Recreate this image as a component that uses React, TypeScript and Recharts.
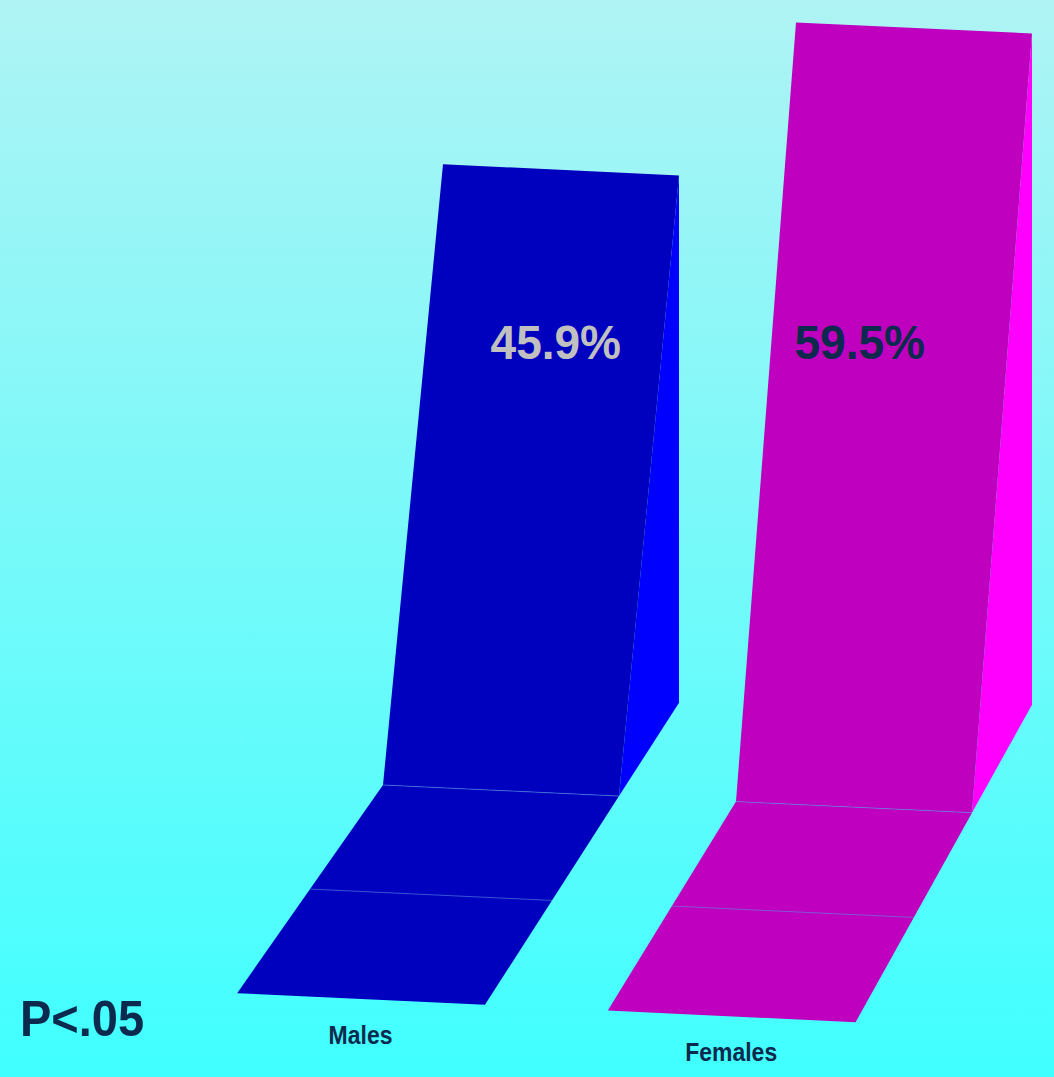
import { BarChart, Bar, XAxis, YAxis, LabelList } from 'recharts'

// Chart values
const categories = ['Males', 'Females']
const percents = [45.9, 59.5]
const valueLabels = ['45.9%', '59.5%']
const significance = 'P<.05'
const yDomain: [number, number] = [-7.6, 59.5]

// Styling per category
const frontColors = ['#0000bf', '#bf00bf']
const sideColors = ['#0000ff', '#ff00ff']
const labelColors = ['#c0c0c0', '#0b2a4e']
const INK = '#0b2a4e'
const FONT = '"Liberation Sans", Arial, Helvetica, sans-serif'

const data = categories.map((name, i) => ({ name, value: percents[i], label: valueLabels[i] }))

// Layout / fake-3D geometry
const CHART_W = 1054
const CHART_H = 1077
const MARGIN = { top: 3, right: 24, bottom: 0, left: 324 }
const AXIS_H = 292
const BASE = CHART_H - MARGIN.bottom - AXIS_H // front face bottom (unskewed)
const BAR_W = 236
const LEAN = 60 // top of front face leans right
const DEPTH = 215 // floor depth toward viewer
const SKEW = 0.047 // whole scene tilts down to the right
const X0 = 383
const LABEL_Y = 359

const floorShift = (x: number) => -165 + 0.05 * x
// value labels drift toward the left edge further right in the scene
const labelShift = (x: number) => 108 - 0.139 * x
const skY = (x: number, y: number) => y + SKEW * (x - X0)
const poly = (pts: number[][]) => pts.map(p => `${p[0]},${skY(p[0], p[1])}`).join(' ')

function StretchText({ x, y, size, sy, color, anchor, children }: any) {
    return (
        <text
            transform={`translate(${x} ${y}) scale(1 ${sy})`}
            textAnchor={anchor}
            fontFamily={FONT}
            fontWeight="bold"
            fontSize={size}
            fill={color}
        >
            {children}
        </text>
    )
}

function Slab(props: any) {
    const { x, y, width, index, payload } = props
    const i = typeof index === 'number' ? index : categories.indexOf(payload?.name)
    const bl = x
    const br = x + width
    const sl = floorShift(bl)
    const sr = floorShift(br)
    const top = y
    const drop = (LEAN * DEPTH) / -sr

    const floor = [[bl, BASE], [br, BASE], [br + sr, BASE + DEPTH], [bl + sl, BASE + DEPTH]]
    const side = [[br + LEAN, top], [br + LEAN, BASE - drop], [br, BASE]]
    const front = [[bl, BASE], [br, BASE], [br + LEAN, top], [bl + LEAN, top]]
    const midY = BASE + DEPTH / 2
    const ax = bl + sl / 2
    const bx = br + sr / 2

    return (
        <g>
            <polygon points={poly(floor)} fill={frontColors[i]} />
            <polygon points={poly(side)} fill={sideColors[i]} />
            <polygon points={poly(front)} fill={frontColors[i]} />
            <line x1={bl} y1={skY(bl, BASE)} x2={br} y2={skY(br, BASE)} stroke="#5a8fe0" strokeOpacity={0.6} strokeWidth={1} />
            <line x1={ax} y1={skY(ax, midY)} x2={bx} y2={skY(bx, midY)} stroke="#5a8fe0" strokeOpacity={0.6} strokeWidth={1} />
        </g>
    )
}

function CategoryTick(props: any) {
    const { x, payload } = props
    const bl = x - BAR_W / 2
    const br = x + BAR_W / 2
    const cx = (bl + floorShift(bl) + br + floorShift(br)) / 2
    const cy = skY(cx, BASE + DEPTH + 45)
    return (
        <StretchText x={cx} y={cy} size={23} sy={1.12} color={INK} anchor="middle">
            {payload.value}
        </StretchText>
    )
}

function ValueLabel(props: any) {
    const { x, width, value, index } = props
    return (
        <StretchText
            x={x + width / 2 + labelShift(x)}
            y={LABEL_Y}
            size={46}
            sy={1.06}
            color={labelColors[index]}
            anchor="middle"
        >
            {value}
        </StretchText>
    )
}

export default function App() {
    return (
        <div
            style={{
                position: 'absolute',
                left: 0,
                top: 0,
                width: CHART_W,
                height: CHART_H,
                background: 'linear-gradient(to bottom, #aff3f4 0%, #40ffff 100%)',
                overflow: 'hidden'
            }}
        >
            <BarChart width={CHART_W} height={CHART_H} data={data} margin={MARGIN}>
                <YAxis hide domain={yDomain} type="number" />
                <XAxis
                    dataKey="name"
                    height={AXIS_H}
                    axisLine={false}
                    tickLine={false}
                    interval={0}
                    tick={<CategoryTick />}
                />
                <Bar dataKey="value" barSize={BAR_W} shape={<Slab />} isAnimationActive={false}>
                    <LabelList dataKey="label" content={<ValueLabel />} />
                </Bar>
            </BarChart>
            <svg width={CHART_W} height={CHART_H} style={{ position: 'absolute', left: 0, top: 0, pointerEvents: 'none' }}>
                <StretchText x={20} y={1036} size={47} sy={1.07} color={INK} anchor="start">
                    {significance}
                </StretchText>
            </svg>
        </div>
    )
}
